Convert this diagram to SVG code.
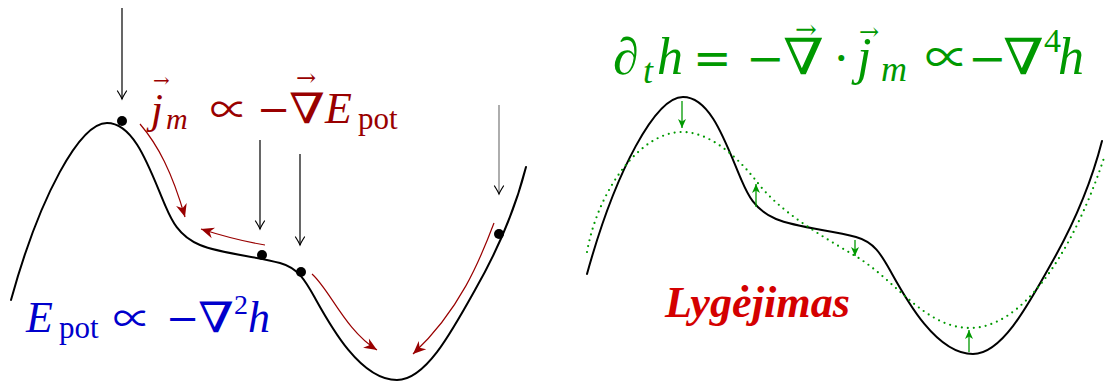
<svg xmlns="http://www.w3.org/2000/svg" xmlns:xlink="http://www.w3.org/1999/xlink" width="1110" height="382" viewBox="0 0 1110 382">
<style>
.curve{fill:none;stroke:#000;stroke-width:2;stroke-linejoin:round;stroke-linecap:round}
.dotted{fill:none;stroke:#009900;stroke-width:2.2;stroke-linecap:round;stroke-dasharray:0 6}
.blk{fill:none;stroke:#000;stroke-width:1.2;marker-end:url(#to)}
.red{fill:none;stroke:#990000;stroke-width:1.2;marker-end:url(#stealthR)}
.grn{fill:none;stroke:#009900;stroke-width:1.3;marker-end:url(#stealthG)}
.m{font-family:"Liberation Serif","DejaVu Serif",serif}
.o{font-family:"DejaVu Serif","Liberation Serif",serif}
.p{font-family:"Noto Sans CJK JP","DejaVu Serif",sans-serif}
.i{font-style:italic}
.r{fill:#990000}
.b{fill:#0000cc}
.g{fill:#009900}
</style>
<defs>
<marker id="to" markerUnits="userSpaceOnUse" viewBox="-9 -6 10 12" markerWidth="10" markerHeight="12" refX="0" refY="0" orient="auto" overflow="visible">
<path d="M-8,-4.5 Q-2.5,-1 0,0 Q-2.5,1 -8,4.5" fill="none" stroke="#000" stroke-width="1.2" stroke-linecap="round"/>
</marker>
<marker id="stealthR" markerUnits="userSpaceOnUse" viewBox="-14 -6 15 12" markerWidth="15" markerHeight="12" refX="0" refY="0" orient="auto" overflow="visible">
<path d="M0,0 L-13,-5.5 L-9,0 L-13,5.5 Z" fill="#990000"/>
</marker>
<marker id="stealthG" markerUnits="userSpaceOnUse" viewBox="-10 -5 11 10" markerWidth="11" markerHeight="10" refX="0" refY="0" orient="auto" overflow="visible">
<path d="M0,0 L-9,-4 L-6.5,0 L-9,4 Z" fill="#009900"/>
</marker>
<path id="surf" d="M11,300 C40,195 80,123 107,123 C135,123 150,170 165,205 C171,219 178,236 200,245 C222,254 255,256 280,263 C298,268 305,280 315,298 C330,325 360,380 397,380 C425,380 450,335 475,290 C495,255 515,210 526,167"/>
</defs>

<g id="left-panel">
<use xlink:href="#surf" href="#surf" class="curve"/>
<g id="particles" fill="#000">
<circle cx="122" cy="121" r="5"/>
<circle cx="262" cy="255" r="5"/>
<circle cx="301" cy="272" r="5"/>
<circle cx="499" cy="234" r="5"/>
</g>
</g>

<g id="right-panel">
<use xlink:href="#surf" href="#surf" class="curve" transform="translate(576,-26)"/>
<path id="smoothed" class="dotted" d="M587,252 C598,190 640,132 682,132 C712,132 740,160 757,182 C780,212 820,235 857,257 C895,280 925,328 970,328 C1020,328 1070,260 1104,158"/>
</g>

<g id="connectors">
<path class="blk" d="M122,8 L122,99"/>
<path class="blk" d="M260,140 L260,229"/>
<path class="blk" d="M300,154 L300,245"/>
<path class="blk" d="M499,105 L499,194" style="stroke:#777"/>
<path class="red" d="M140,124 C158,145 172,172 185,217"/>
<path class="red" d="M265,245 Q235,240 201,229"/>
<path class="red" d="M312,274 C330,290 345,330 377,350"/>
<path class="red" d="M494,223 C480,260 460,310 413,354"/>
<path class="grn" d="M682,101 L682,128"/>
<path class="grn" d="M756,207 L756,184"/>
<path class="grn" d="M855,240 L855,256"/>
<path class="grn" d="M969,352 L969,330"/>
</g>

<g id="label-flux" class="r">
<text class="m i" x="151" y="123" font-size="43">j</text>
<text class="o" x="153" y="87" font-size="20">→</text>
<text class="m i" x="166" y="129" font-size="30">m</text>
<text class="p" x="210" y="123" font-size="38">∝</text>
<text class="o" x="257" y="123" font-size="40">−</text>
<text class="o" x="289" y="123" font-size="42" textLength="36" lengthAdjust="spacingAndGlyphs">∇</text>
<text class="o" x="296" y="86" font-size="24">→</text>
<text class="m i" x="325" y="123" font-size="44">E</text>
<text class="m" x="358" y="129" font-size="31">pot</text>
</g>

<g id="label-energy" class="b">
<text class="m i" x="26" y="332" font-size="44">E</text>
<text class="m" x="59" y="338" font-size="31">pot</text>
<text class="p" x="113" y="332" font-size="38">∝</text>
<text class="o" x="166" y="332" font-size="40">−</text>
<text class="o" x="198" y="332" font-size="42" textLength="36" lengthAdjust="spacingAndGlyphs">∇</text>
<text class="m" x="234" y="314" font-size="28">2</text>
<text class="m i" x="248" y="332" font-size="44">h</text>
</g>

<g id="label-evolution" class="g">
<text class="m i" x="613" y="74" font-size="52">∂</text>
<text class="m i" x="643" y="83" font-size="36">t</text>
<text class="m i" x="657" y="74" font-size="52">h</text>
<text class="o" x="693" y="74" font-size="46">=</text>
<text class="o" x="746" y="74" font-size="46">−</text>
<text class="o" x="783" y="74" font-size="50" textLength="41" lengthAdjust="spacingAndGlyphs">∇</text>
<text class="o" x="795" y="38" font-size="26">→</text>
<text class="o" x="834" y="74" font-size="46">·</text>
<text class="m i" x="857" y="74" font-size="52">j</text>
<text class="o" x="859" y="40" font-size="24">→</text>
<text class="m i" x="881" y="81" font-size="36">m</text>
<text class="p" x="925" y="74" font-size="44">∝</text>
<text class="o" x="968" y="74" font-size="46">−</text>
<text class="o" x="1003" y="74" font-size="50" textLength="41" lengthAdjust="spacingAndGlyphs">∇</text>
<text class="m" x="1044" y="52" font-size="34">4</text>
<text class="m i" x="1058" y="74" font-size="52">h</text>
</g>

<g id="label-smoothing">
<text x="665" y="317" font-family="Liberation Serif, serif" font-size="45" font-weight="bold" font-style="italic" fill="#d40000" textLength="185" lengthAdjust="spacingAndGlyphs">Lygėjimas</text>
</g>
</svg>
